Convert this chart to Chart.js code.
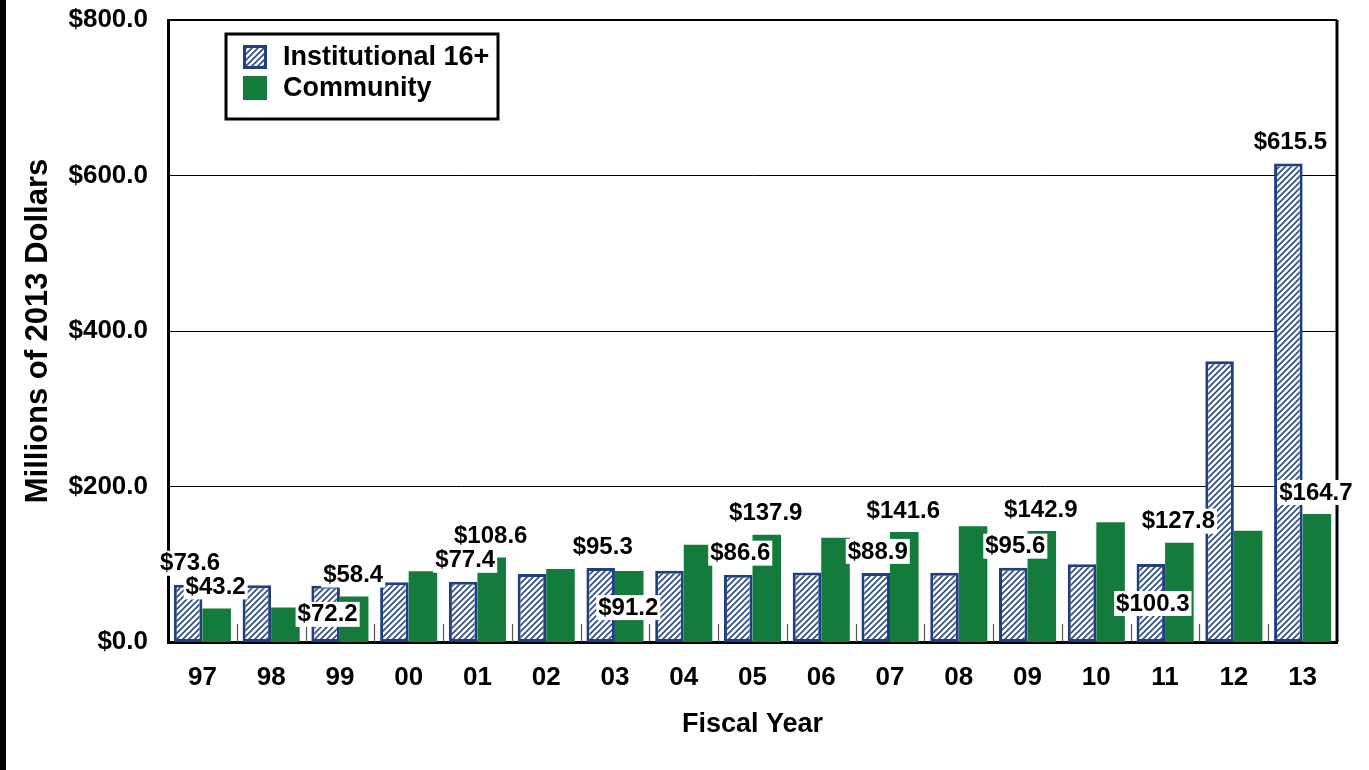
<!DOCTYPE html>
<html>
<head>
<meta charset="utf-8">
<script src="https://cdn.jsdelivr.net/npm/chart.js@4.4.1/dist/chart.umd.min.js"></script>
<style>
  html, body { margin: 0; padding: 0; background: #fff; }
  #wrap { position: relative; width: 1369px; height: 770px; }
  #edge { position: absolute; left: 0; top: 0; width: 6px; height: 770px; background: #000; }
  canvas { position: absolute; left: 0; top: 0; }
</style>
</head>
<body>
<div id="wrap">
  <canvas id="c" width="1369" height="770"></canvas>
  <div id="edge"></div>
</div>
<script>
// ---- data ----
const categories = ['97','98','99','00','01','02','03','04','05','06','07','08','09','10','11','12','13'];
const institutional = [73.6, 73.0, 72.2, 77.0, 77.4, 87.5, 95.3, 91.5, 86.6, 89.5, 88.9, 89.0, 95.6, 100.0, 100.3, 361.0, 615.5];
const community = [43.2, 44.5, 58.4, 91.0, 108.6, 94.0, 91.2, 125.0, 137.9, 134.0, 141.6, 149.0, 142.9, 154.0, 127.8, 143.0, 164.7];
const seriesNames = ['Institutional 16+', 'Community'];
const yTickValues = [0, 200, 400, 600, 800];
const labeledCategories = ['97','99','01','03','05','07','09','11','13'];

// ---- label placement (layout, not data) ----
const labelInside = { 0: { '99': 28, '11': 39 }, 1: { '03': 36 } };
const labelDx = [2, -1];

const FONT = "'Liberation Sans', Arial, Helvetica, sans-serif";
const BLUE = '#1F3F7F';
const GREEN = '#137B3B';

function makeHatch() {
  const s = 6;
  const pc = document.createElement('canvas');
  pc.width = s; pc.height = s;
  const g = pc.getContext('2d');
  g.fillStyle = '#ffffff';
  g.fillRect(0, 0, s, s);
  g.strokeStyle = '#2B4A8A';
  g.lineWidth = 1.6;
  g.beginPath();
  g.moveTo(-1, s + 1); g.lineTo(s + 1, -1);
  g.moveTo(-s / 2 - 1, s / 2 + 1); g.lineTo(s / 2 + 1, -s / 2 - 1);
  g.moveTo(s / 2 - 1, s * 1.5 + 1); g.lineTo(s * 1.5 + 1, s / 2 - 1);
  g.stroke();
  return document.getElementById('c').getContext('2d').createPattern(pc, 'repeat');
}
const hatch = makeHatch();

const framePlugin = {
  id: 'frame',
  beforeDatasetsDraw(chart) {
    const { ctx, chartArea: a, scales } = chart;
    const xs = scales.x;
    ctx.save();
    ctx.strokeStyle = '#555';
    ctx.lineWidth = 1.2;
    for (let i = 1; i < categories.length; i++) {
      const x = Math.round((xs.getPixelForValue(i - 1) + xs.getPixelForValue(i)) / 2) + 0.5;
      ctx.beginPath();
      ctx.moveTo(x, a.bottom);
      ctx.lineTo(x, a.bottom - 18);
      ctx.stroke();
    }
    ctx.restore();
  },
  afterDraw(chart) {
    const { ctx, chartArea: a } = chart;
    ctx.save();
    // frame
    ctx.strokeStyle = '#000';
    ctx.lineWidth = 2;
    ctx.beginPath();
    ctx.moveTo(a.left, a.top); ctx.lineTo(a.right, a.top);
    ctx.stroke();
    ctx.lineWidth = 3;
    ctx.beginPath();
    ctx.moveTo(a.right, a.top); ctx.lineTo(a.right, a.bottom);
    ctx.stroke();

    // data labels
    ctx.font = 'bold 24px ' + FONT;
    ctx.textAlign = 'center';
    ctx.textBaseline = 'middle';
    chart.data.datasets.forEach((ds, di) => {
      const meta = chart.getDatasetMeta(di);
      meta.data.forEach((bar, i) => {
        const cat = categories[i];
        if (!labeledCategories.includes(cat)) return;
        const txt = '$' + ds.data[i].toFixed(1);
        const inside = labelInside[di][cat];
        const cx = bar.x + labelDx[di];
        const cy = bar.y + (inside !== undefined ? inside : -22);
        const w = ctx.measureText(txt).width;
        ctx.fillStyle = '#fff';
        ctx.fillRect(cx - w / 2 - 2, cy - 12, w + 4, 25);
        ctx.fillStyle = '#000';
        ctx.fillText(txt, cx, cy + 1);
      });
    });

    // legend
    const lx = a.left + 58, ly = a.top + 14;
    ctx.lineWidth = 3;
    ctx.strokeStyle = '#000';
    ctx.fillStyle = '#fff';
    ctx.fillRect(lx, ly, 272, 85);
    ctx.strokeRect(lx, ly, 272, 85);
    chart.data.datasets.forEach((ds, di) => {
      const sy = ly + 11 + di * 31;
      ctx.fillStyle = ds.backgroundColor;
      ctx.fillRect(lx + 17, sy, 24, 24);
      if (di === 0) {
        ctx.lineWidth = 3;
        ctx.strokeStyle = ds.borderColor;
        ctx.strokeRect(lx + 18.5, sy + 1.5, 21, 21);
      }
      ctx.fillStyle = '#000';
      ctx.font = 'bold 27px ' + FONT;
      ctx.textAlign = 'left';
      ctx.textBaseline = 'middle';
      ctx.fillText(ds.label, lx + 57, sy + 13);
    });
    ctx.restore();
  }
};

new Chart(document.getElementById('c'), {
  type: 'bar',
  data: {
    labels: categories,
    datasets: [
      { label: seriesNames[0], data: institutional, backgroundColor: hatch, borderColor: BLUE, borderWidth: 3, borderSkipped: false },
      { label: seriesNames[1], data: community, backgroundColor: GREEN, borderWidth: 0 }
    ]
  },
  options: {
    responsive: false,
    animation: false,
    devicePixelRatio: 1,
    layout: { padding: { left: 8, right: 32, top: 20, bottom: 29 } },
    datasets: { bar: { categoryPercentage: 0.83, barPercentage: 1.0 } },
    plugins: { legend: { display: false }, tooltip: { enabled: false } },
    scales: {
      x: {
        grid: { display: false, drawTicks: false },
        border: { color: '#000', width: 3 },
        ticks: { color: '#000', font: { family: FONT, size: 26, weight: 'bold' }, padding: 20 },
        title: { display: true, text: 'Fiscal Year', color: '#000', font: { family: FONT, size: 27, weight: 'bold' }, padding: { top: 8, bottom: 0 } },
        afterFit(s) { s.height = 99; s.paddingLeft = 0; s.paddingRight = 0; }
      },
      y: {
        min: 0, max: 800,
        afterBuildTicks(s) { s.ticks = yTickValues.map(v => ({ value: v })); },
        grid: {
          color: '#000',
          lineWidth: (c) => (c.tick && c.tick.value === 0 ? 0 : 1),
          drawTicks: false
        },
        border: { color: '#000', width: 3 },
        ticks: {
          color: '#000', font: { family: FONT, size: 26, weight: 'bold' }, padding: 20,
          callback: (v) => '$' + Number(v).toFixed(1)
        },
        title: { display: true, text: 'Millions of 2013 Dollars', color: '#000', font: { family: FONT, size: 31, weight: 'bold', lineHeight: 1.0 }, padding: { top: 15, bottom: 0 } },
        afterFit(s) { s.width = 160; s.paddingTop = 0; s.paddingBottom = 0; }
      }
    }
  },
  plugins: [framePlugin]
});
</script>
</body>
</html>
